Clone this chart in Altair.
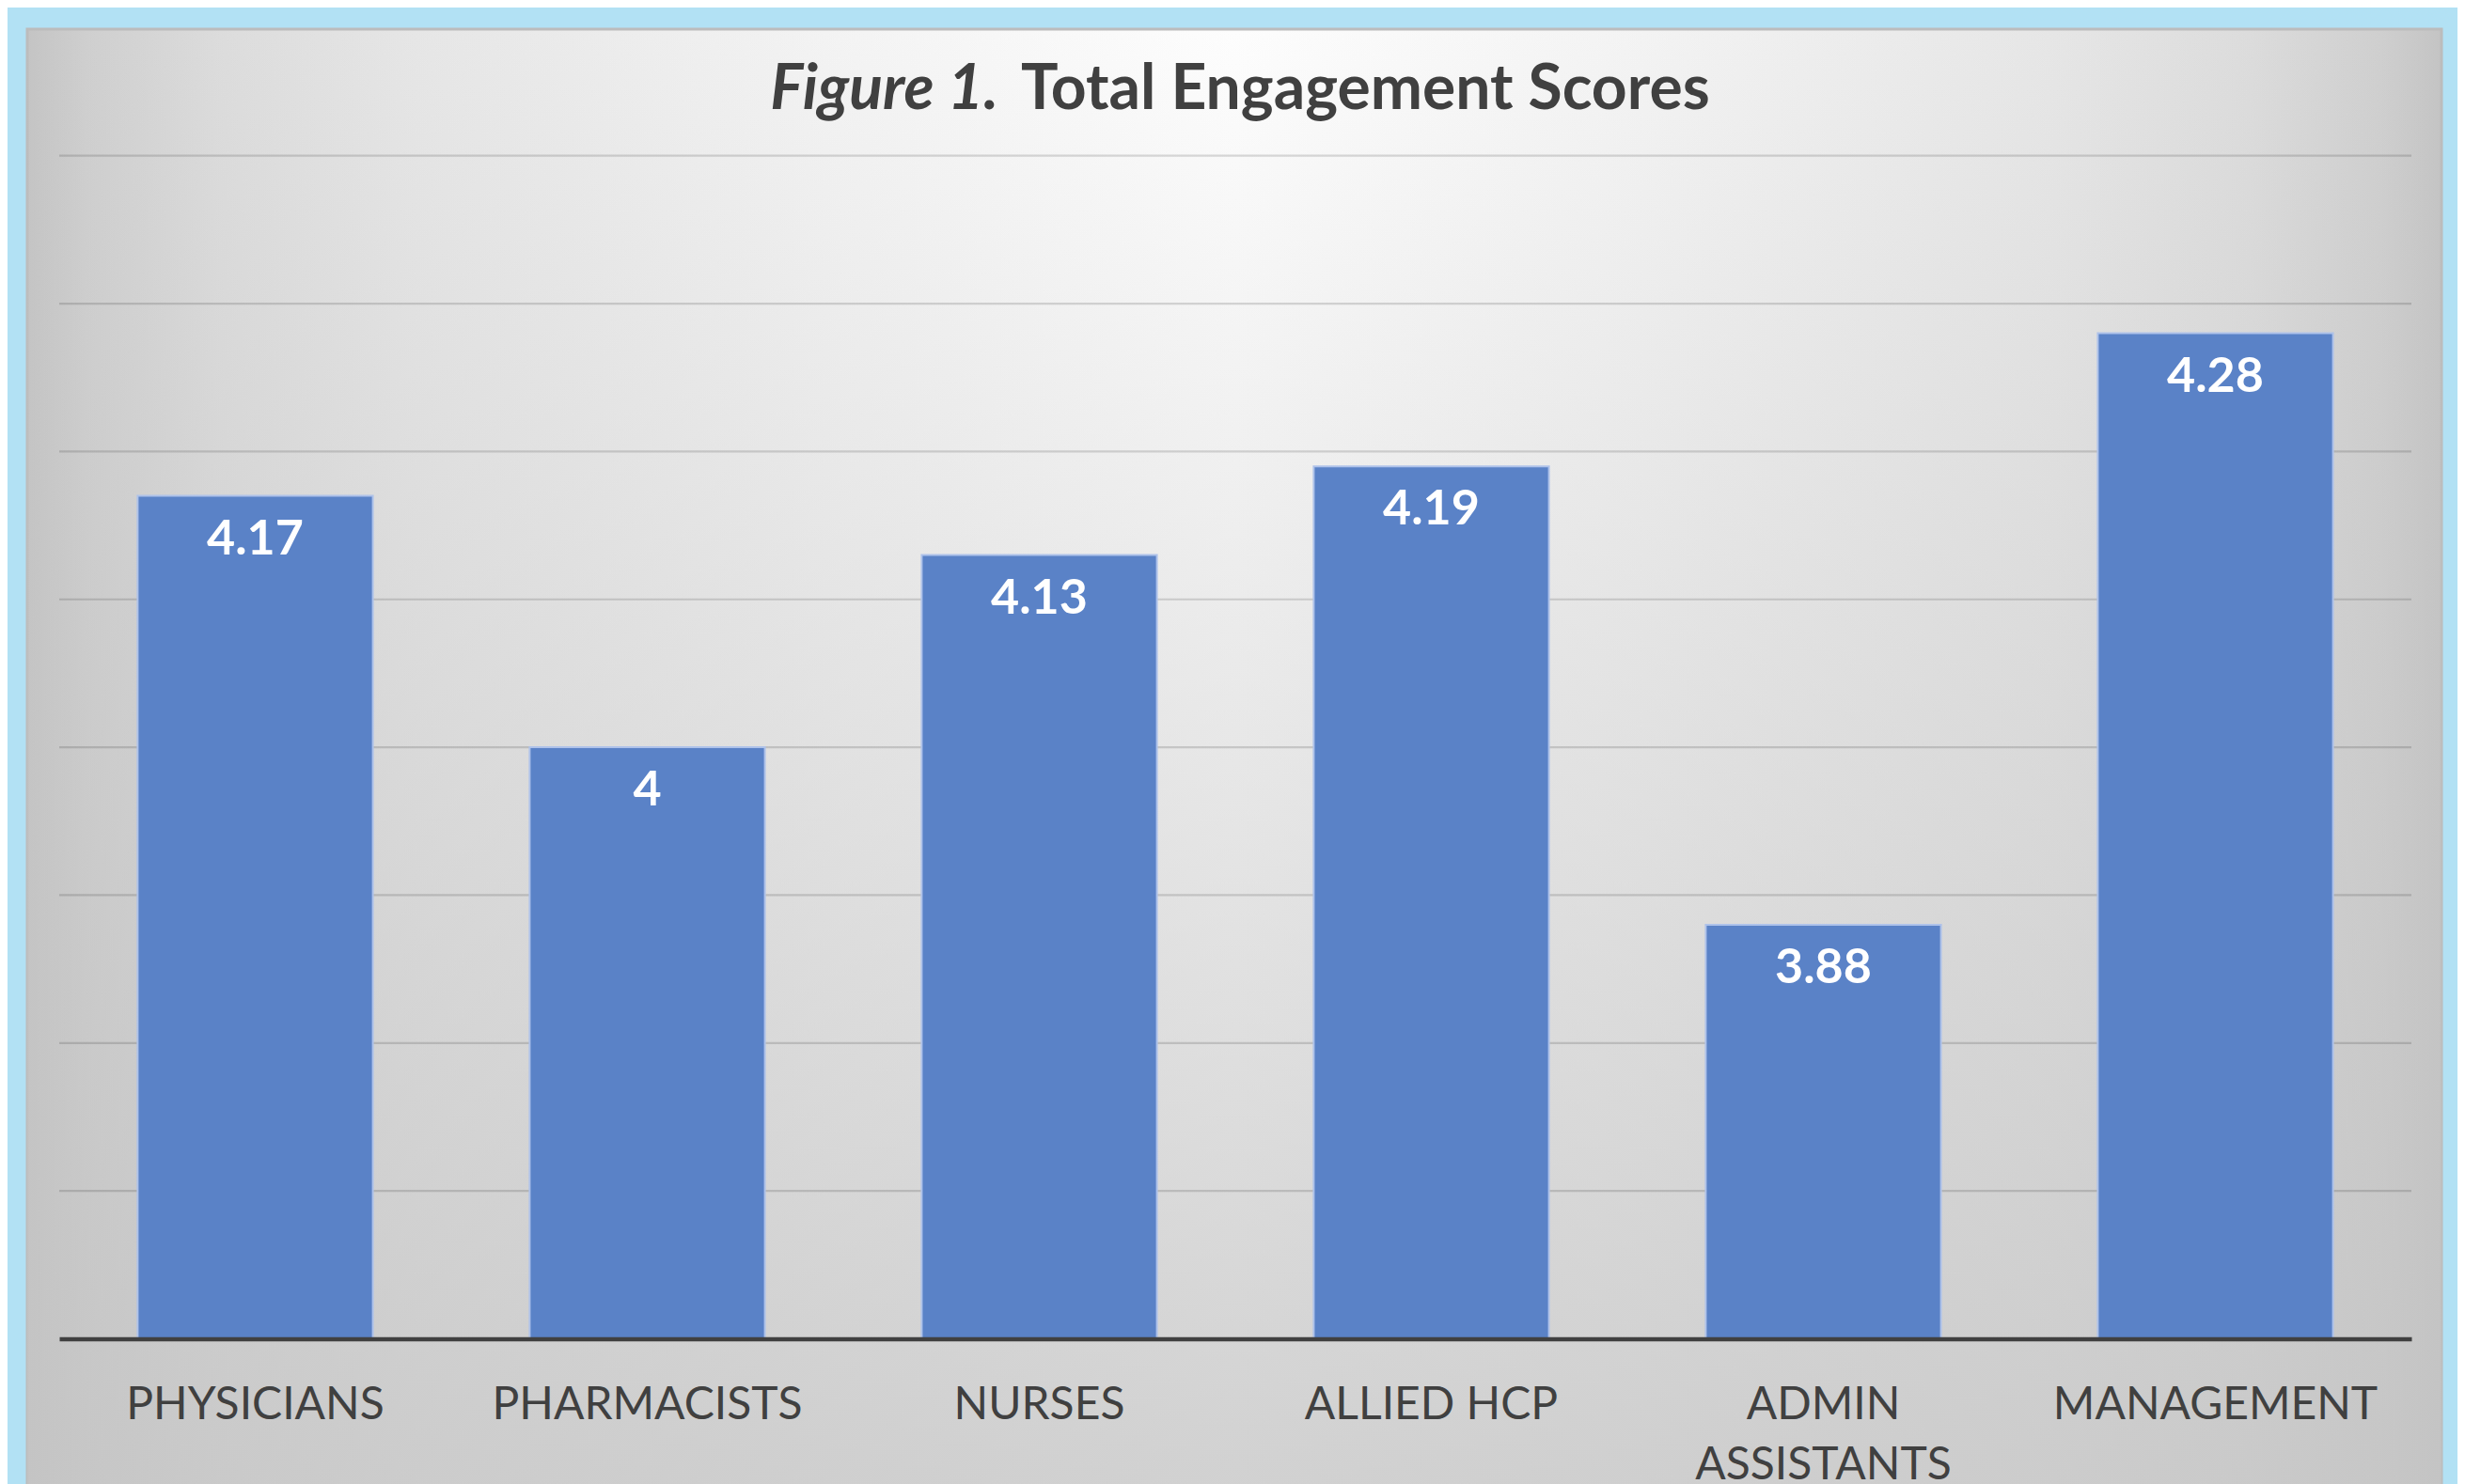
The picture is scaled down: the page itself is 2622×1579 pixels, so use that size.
import altair as alt
import pandas as pd

# ---- data ----
categories = ["PHYSICIANS", "PHARMACISTS", "NURSES", "ALLIED HCP", "ADMIN ASSISTANTS", "MANAGEMENT"]
scores = [4.17, 4.0, 4.13, 4.19, 3.88, 4.28]
grid_values = [3.7, 3.8, 3.9, 4.0, 4.1, 4.2, 4.3, 4.4]
y_domain = [3.6, 4.4]
title_italic = "Figure 1."
title_main = "Total Engagement Scores"

df = pd.DataFrame({"cat": categories, "score": scores})
grid_df = pd.DataFrame({"v": grid_values})
one = pd.DataFrame({"k": [0]})

W = 2502
H = 1258.8
BOTTOM = 154.5
FONT = "Lato"
TXT = "#404040"

yscale = alt.Scale(domain=y_domain, zero=False, nice=False)
xaxis = alt.Axis(
    title=None, labelAngle=0, ticks=False, tickSize=0, domain=True,
    domainColor=TXT, domainWidth=4.5, labelFont=FONT, labelFontSize=48,
    labelColor=TXT, labelPadding=85, labelBaseline="alphabetic",
    labelLineHeight=64, labelLimit=2000, labelOverlap=False, zindex=1,
    labelExpr="datum.value == 'ADMIN ASSISTANTS' ? ['ADMIN', 'ASSISTANTS'] : datum.value",
)
xenc = alt.X("cat:N", sort=categories,
             scale=alt.Scale(paddingInner=0.4, paddingOuter=0.2), axis=xaxis)

# background panel: horizontal gradient + vertical darkening overlay
h_grad = {
    "gradient": "linear", "x1": 0, "y1": 0, "x2": 1, "y2": 0,
    "stops": [
        {"offset": 0.0, "color": "#c4c4c4"},
        {"offset": 0.025, "color": "#cfcfcf"},
        {"offset": 0.08, "color": "#dcdcdc"},
        {"offset": 0.16, "color": "#e6e6e6"},
        {"offset": 0.33, "color": "#f3f3f3"},
        {"offset": 0.5, "color": "#fdfdfd"},
        {"offset": 0.67, "color": "#f3f3f3"},
        {"offset": 0.84, "color": "#e6e6e6"},
        {"offset": 0.92, "color": "#dcdcdc"},
        {"offset": 0.975, "color": "#cfcfcf"},
        {"offset": 1.0, "color": "#c4c4c4"},
    ],
}
v_grad = {
    "gradient": "linear", "x1": 0, "y1": 0, "x2": 0, "y2": 1,
    "stops": [
        {"offset": 0.0, "color": "rgba(196,196,196,0)"},
        {"offset": 1.0, "color": "rgba(196,196,196,0.77)"},
    ],
}
panel_pos = dict(x=alt.value(-34), x2=alt.value(W + 32),
                 y=alt.value(-134.7), y2=alt.value(H + BOTTOM + 4))
bg1 = alt.Chart(one).mark_rect(fill=h_grad, stroke="#bcbcbc", strokeWidth=3).encode(**panel_pos)
bg2 = alt.Chart(one).mark_rect(fill=v_grad).encode(**panel_pos)

grid = alt.Chart(grid_df).mark_rule(color="#000000", opacity=0.14, strokeWidth=2.2).encode(
    y=alt.Y("v:Q", scale=yscale, axis=None)
)

bars = alt.Chart(df).mark_bar(color="#5a82c7", stroke="#aec2ea", strokeWidth=2).encode(
    x=xenc,
    y=alt.Y("score:Q", scale=yscale, axis=None),
    y2=alt.datum(y_domain[0]),
)

labels = alt.Chart(df).mark_text(
    color="white", font=FONT, fontSize=52, fontWeight="bold",
    baseline="alphabetic", align="center", dy=62,
).encode(
    x=xenc,
    y=alt.Y("score:Q", scale=yscale, axis=None),
    text=alt.Text("score:Q", format="~g"),
)

t1 = alt.Chart(one).mark_text(
    text=title_italic, font=FONT, fontSize=66, fontWeight="bold", fontStyle="italic",
    color=TXT, align="right", baseline="alphabetic",
).encode(x=alt.value(999), y=alt.value(-49.7))
t2 = alt.Chart(one).mark_text(
    text=title_main, font=FONT, fontSize=66, fontWeight="bold",
    color=TXT, align="left", baseline="alphabetic",
).encode(x=alt.value(1023), y=alt.value(-49.7))

chart = alt.layer(bg1, bg2, grid, bars, labels, t1, t2).properties(
    width=W, height=H,
    background="#b2e1f4",
    padding={"left": 55, "top": 157.7, "right": 49, "bottom": BOTTOM},
    autosize=alt.AutoSizeParams(type="none"),
).configure_view(stroke=None)

chart.save("out.html", embed_options={"renderer": "svg", "actions": False})
